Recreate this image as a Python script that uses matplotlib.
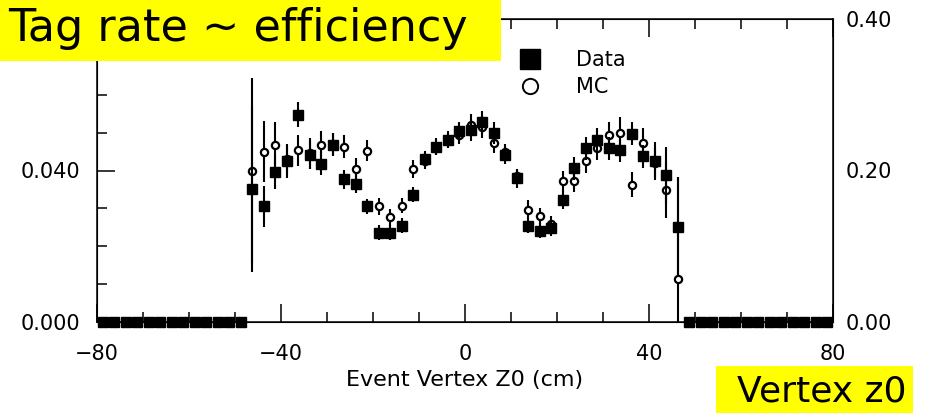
import matplotlib.pyplot as plt
import numpy as np
from matplotlib.lines import Line2D
from matplotlib.patches import Rectangle

# bin centres (2.5 cm bins from -80 to 80)
z_bins = np.arange(-78.75, 80, 2.5)
n_empty = 13  # empty bins on each side

# measured tag rate in the filled region (-46.25 .. 46.25)
data_vals = [0.0351, 0.0305, 0.0395, 0.0424, 0.0547, 0.0441, 0.0418, 0.0468, 0.0377, 0.0365,
             0.0305, 0.0236, 0.0236, 0.0254, 0.0336, 0.0430, 0.0463, 0.0481, 0.0503, 0.0507,
             0.0527, 0.0499, 0.0441, 0.0380, 0.0254, 0.0241, 0.0248, 0.0323, 0.0406, 0.0459,
             0.0481, 0.0459, 0.0453, 0.0497, 0.0437, 0.0424, 0.0387, 0.0252]
data_errs = [0.022, 0.0055, 0.0045, 0.0044, 0.0033, 0.0037, 0.003, 0.003, 0.0025, 0.0025,
             0.002, 0.002, 0.002, 0.002, 0.002, 0.0022, 0.0022, 0.0022, 0.0025, 0.0028,
             0.003, 0.003, 0.0025, 0.0025, 0.002, 0.002, 0.0022, 0.0025, 0.003, 0.003,
             0.003, 0.003, 0.003, 0.003, 0.003, 0.005, 0.0075, 0.013]
mc_vals = [0.0400, 0.0450, 0.0468, 0.0430, 0.0453, 0.0445, 0.0468, 0.0470, 0.0463, 0.0404,
           0.0452, 0.0305, 0.0276, 0.0307, 0.0404, 0.0425, 0.0460, 0.0480, 0.0494, 0.0520,
           0.0515, 0.0472, 0.0450, 0.0385, 0.0296, 0.0280, 0.0260, 0.0371, 0.0371, 0.0424,
           0.0459, 0.0494, 0.0500, 0.0362, 0.0472, 0.0420, 0.0349, 0.0113]
mc_errs = [0.0245, 0.008, 0.006, 0.004, 0.004, 0.004, 0.0035, 0.003, 0.003, 0.003,
           0.0028, 0.0022, 0.0022, 0.002, 0.0025, 0.002, 0.002, 0.002, 0.0025, 0.003,
           0.003, 0.0025, 0.002, 0.002, 0.0025, 0.0022, 0.002, 0.0028, 0.0028, 0.003,
           0.003, 0.0035, 0.004, 0.0033, 0.004, 0.004, 0.0075, 0.027]

pad = [0.0] * n_empty
data_y = np.array(pad + data_vals + pad)
data_e = np.array(pad + data_errs + pad)
mc_y = np.array(pad + mc_vals + pad)
mc_e = np.array(pad + mc_errs + pad)

plt.rcParams['font.family'] = ['DejaVu Sans']

fig = plt.figure(figsize=(9.26, 4.13), dpi=100)
ax = fig.add_axes([97 / 926, 91 / 413, 736 / 926, 303 / 413])

eb_mc = ax.errorbar(z_bins, mc_y, yerr=mc_e, fmt='o', ms=5.2, mfc='white', mec='black',
                    mew=1.6, ecolor='black', elinewidth=1.5, capsize=0, zorder=3,
                    clip_on=False)
eb_data = ax.errorbar(z_bins, data_y, yerr=data_e, fmt='s', ms=6.5, mfc='black',
                      mec='black', ecolor='black', elinewidth=1.5, capsize=0, zorder=4,
                      clip_on=False)
# error bars stop at the frame, markers on the axis stay visible
for eb in (eb_mc, eb_data):
    for c in eb[2]:
        c.set_clip_on(True)

ax.set_xlim(-80, 80)
ax.set_ylim(0, 0.08)
ax.set_xticks([-80, -40, 0, 40, 80])
ax.set_xticks(np.arange(-80, 81, 10), minor=True)
ax.set_yticks([0, 0.04, 0.08])
ax.set_yticklabels(['0.000', '0.040', ''])
ax.set_yticks(np.arange(0, 0.081, 0.01), minor=True)
ax.tick_params(which='both', direction='in', top=True, right=True, width=1.1,
               labelsize=15, colors='black')
ax.tick_params(which='major', length=13)
ax.tick_params(which='minor', length=7)
ax.tick_params(axis='x', pad=16)
ax.tick_params(axis='y', pad=12)
for s in ax.spines.values():
    s.set_linewidth(1.1)

ax2 = ax.twinx()
ax2.set_ylim(0, 0.40)
ax2.set_yticks([0, 0.2, 0.4])
ax2.set_yticklabels(['0.00', '0.20', '0.40'])
ax2.tick_params(direction='in', length=0, labelsize=15, pad=9)

ax.set_xlabel('Event Vertex Z0 (cm)', fontsize=16, labelpad=4)

handles = [Line2D([], [], ls='none', marker='s', ms=15, mfc='black', mec='black'),
           Line2D([], [], ls='none', marker='o', ms=11, mfc='white', mec='black', mew=1.4)]
ax.legend(handles, ['Data', 'MC'], loc='upper left', bbox_to_anchor=(0.54, 0.96),
          frameon=False, fontsize=15, handlelength=1.6, handletextpad=1.4,
          labelspacing=0.35)

# yellow annotation boxes
fig.patches.append(Rectangle((0, 1 - 61 / 413), 501 / 926, 61 / 413,
                             transform=fig.transFigure, facecolor='#ffff00',
                             edgecolor='none', zorder=5))
fig.text(8 / 926, 1 - 29 / 413, 'Tag rate ~ efficiency', fontsize=32, va='center',
         ha='left', color='black', zorder=6)
fig.patches.append(Rectangle((716 / 926, 0), 197 / 926, 47 / 413,
                             transform=fig.transFigure, facecolor='#ffff00',
                             edgecolor='none', zorder=5))
fig.text(822 / 926, 21 / 413, 'Vertex z0', fontsize=26, va='center', ha='center',
         color='black', zorder=6)

fig.savefig('out.png', dpi=100)
